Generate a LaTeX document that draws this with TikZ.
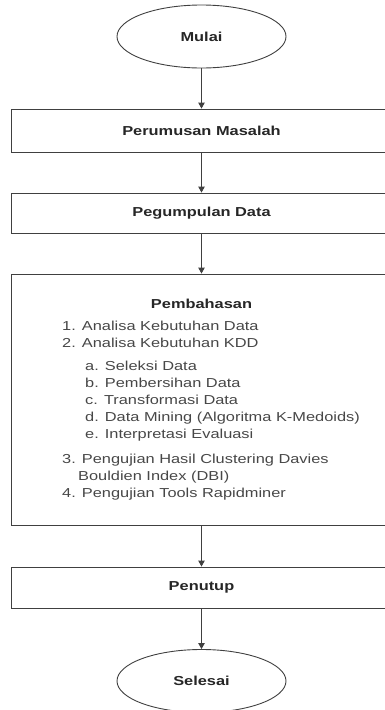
\documentclass[tikz,border=0pt]{standalone}
\usepackage{fontspec}
\setmainfont[FakeStretch=1.26]{Liberation Sans}
\usetikzlibrary{shapes.geometric,arrows.meta}
\begin{document}
\begin{tikzpicture}[x=1pt,y=-1pt,
  line/.style={draw=black!75,line width=0.9pt},
  term/.style={ellipse,line,minimum width=169pt,minimum height=63pt,inner sep=0pt,
    font=\fontsize{13}{15}\selectfont\bfseries,text=black!85},
  proc/.style={rectangle,line,minimum width=381pt,inner sep=0pt},
  ttl/.style={inner sep=0pt,font=\fontsize{13}{15}\selectfont\bfseries,text=black!85},
  item/.style={anchor=base west,inner sep=0pt,font=\fontsize{13}{15}\selectfont,text=black!72},
  flow/.style={line,-{Triangle[length=6pt,width=6.5pt]}}]
\useasboundingbox (0,0) rectangle (385,710);
\clip (0,0) rectangle (385,710);

\node[term] (mulai) at (201.5,36.5) {Mulai};
\node[proc,minimum height=43pt] (b1) at (201.5,130.5) {};
\node[ttl] (t1) at (b1.center) {Perumusan Masalah};
\node[proc,minimum height=40pt] (b2) at (201.5,213) {};
\node[ttl] (t2) at (b2.center) {Pegumpulan Data};
\node[proc,minimum height=251pt] (b3) at (201.5,399.5) {};
\node[ttl,anchor=base] (t3) at (201.5,308) {Pembahasan};
\node[item] (i1) at (62,330) {1. Analisa Kebutuhan Data};
\node[item] (i2) at (62,347) {2. Analisa Kebutuhan KDD};
\node[item] (ia) at (85,370) {a. Seleksi Data};
\node[item] (ib) at (85,387) {b. Pembersihan Data};
\node[item] (ic) at (85,404) {c. Transformasi Data};
\node[item] (id) at (85,421) {d. Data Mining (Algoritma K-Medoids)};
\node[item] (ie) at (85,438) {e. Interpretasi Evaluasi};
\node[item] (i3) at (62,463) {3. Pengujian Hasil Clustering Davies};
\node[item] (i3b) at (78,480) {Bouldien Index (DBI)};
\node[item] (i4) at (62,497) {4. Pengujian Tools Rapidminer};
\node[proc,minimum height=41pt] (b4) at (201.5,587.5) {};
\node[ttl] (t4) at (b4.center) {Penutup};
\node[term] (selesai) at (201.5,681) {Selesai};

\draw[flow] (mulai.south) -- (b1.north);
\draw[flow] (b1.south) -- (b2.north);
\draw[flow] (b2.south) -- (b3.north);
\draw[flow] (b3.south) -- (b4.north);
\draw[flow] (b4.south) -- (selesai.north);
\end{tikzpicture}
\end{document}
